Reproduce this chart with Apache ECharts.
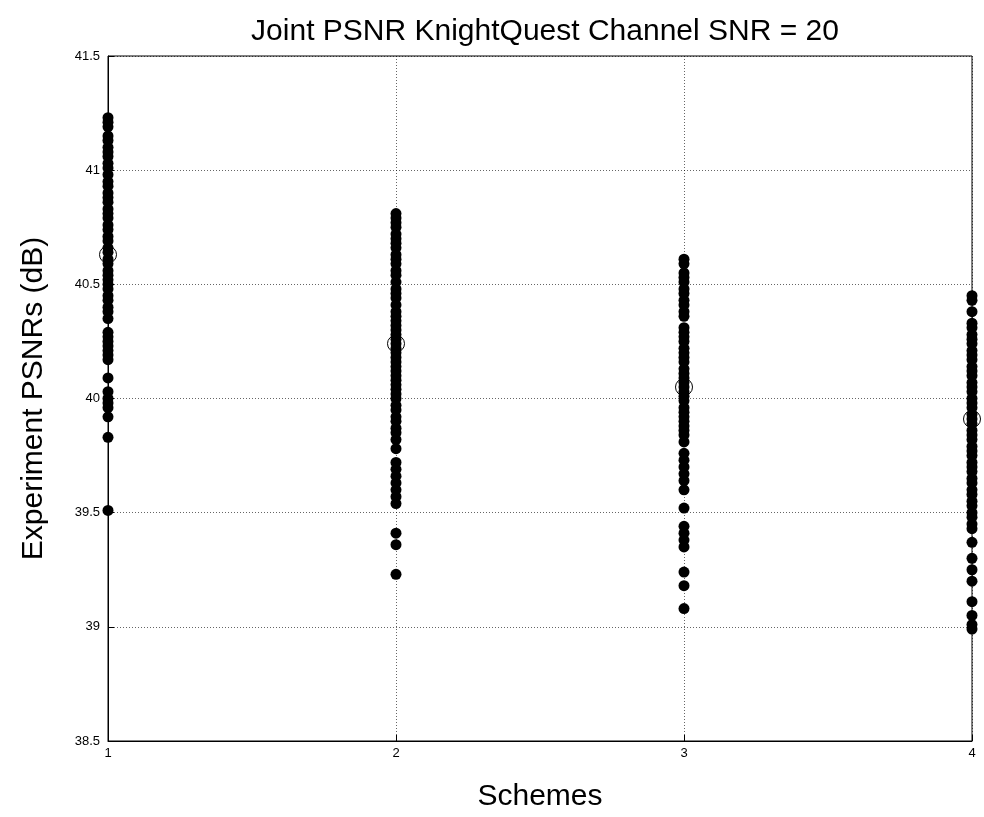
<!DOCTYPE html>
<html>
<head>
<meta charset="utf-8">
<script src="https://cdn.jsdelivr.net/npm/echarts@6/dist/echarts.min.js"></script>
<style>
  html, body { margin: 0; padding: 0; background: #fff; }
  #chart { width: 984px; height: 817px; }
</style>
</head>
<body>
<div id="chart"></div>
<script>
// PSNR samples, one list per scheme
const scheme1 = [41.23, 41.21, 41.19, 41.15, 41.13, 41.10, 41.08, 41.06, 41.03, 41.01, 40.98, 40.95, 40.93,
  40.90, 40.88, 40.86, 40.83, 40.81, 40.79, 40.76, 40.74, 40.71, 40.69, 40.66, 40.64, 40.61, 40.59, 40.56,
  40.54, 40.52, 40.50, 40.48, 40.45, 40.43, 40.40, 40.38, 40.35, 40.29, 40.27, 40.25, 40.23, 40.21, 40.19,
  40.17, 40.09, 40.03, 40.00, 39.98, 39.96, 39.92, 39.83, 39.51];
const scheme2 = [40.81, 40.79, 40.77, 40.75, 40.72, 40.70, 40.68, 40.66, 40.63, 40.61, 40.59, 40.56, 40.54,
  40.51, 40.48, 40.46, 40.44, 40.41, 40.38, 40.36, 40.34, 40.32, 40.30, 40.28, 40.26, 40.24, 40.22, 40.20,
  40.18, 40.16, 40.14, 40.12, 40.10, 40.08, 40.06, 40.04, 40.02, 40.00, 39.97, 39.95, 39.92, 39.90, 39.87,
  39.85, 39.82, 39.78, 39.72, 39.69, 39.66, 39.63, 39.60, 39.57, 39.54, 39.41, 39.36, 39.23];
const scheme3 = [40.61, 40.59, 40.55, 40.53, 40.51, 40.48, 40.46, 40.43, 40.41, 40.38, 40.36, 40.31, 40.29,
  40.27, 40.25, 40.22, 40.20, 40.18, 40.16, 40.13, 40.11, 40.09, 40.07, 40.05, 40.03, 40.01, 39.99, 39.96,
  39.94, 39.92, 39.90, 39.88, 39.86, 39.84, 39.81, 39.76, 39.73, 39.70, 39.67, 39.64, 39.60, 39.52, 39.44,
  39.41, 39.38, 39.35, 39.24, 39.18, 39.08];
const scheme4 = [40.45, 40.43, 40.38, 40.33, 40.31, 40.28, 40.26, 40.24, 40.21, 40.19, 40.17, 40.14, 40.12,
  40.10, 40.07, 40.05, 40.03, 40.00, 39.98, 39.96, 39.93, 39.91, 39.89, 39.86, 39.84, 39.82, 39.79, 39.77,
  39.75, 39.72, 39.70, 39.68, 39.65, 39.63, 39.60, 39.58, 39.55, 39.53, 39.50, 39.48, 39.45, 39.43, 39.37,
  39.30, 39.25, 39.20, 39.11, 39.05, 39.01, 38.99];
const meanPsnr = [40.63, 40.24, 40.05, 39.91];
const schemeIds = [1, 2, 3, 4];

const samples = [scheme1, scheme2, scheme3, scheme4];
const points = [];
samples.forEach((vals, i) => vals.forEach(v => points.push([schemeIds[i], v])));
const means = meanPsnr.map((v, i) => [schemeIds[i], v]);

const chart = echarts.init(document.getElementById('chart'));
const font = 'Liberation Sans, Arial, sans-serif';
const dotted = { show: true, lineStyle: { color: '#000', type: [1, 2], width: 1, opacity: 0.6 } };

chart.setOption({
  animation: false,
  backgroundColor: '#fff',
  title: {
    text: 'Joint PSNR KnightQuest Channel SNR = 20',
    left: 540, top: 12, textAlign: 'center',
    textStyle: { fontFamily: font, fontSize: 30, fontWeight: 'normal', color: '#000' }
  },
  grid: { left: 108, right: 12, top: 56, bottom: 75, show: true, borderColor: '#000', borderWidth: 1 },
  xAxis: {
    type: 'value', min: 1, max: 4, interval: 1,
    name: 'Schemes', nameLocation: 'middle', nameGap: 41,
    nameTextStyle: { fontFamily: font, fontSize: 30, color: '#000' },
    axisLine: { lineStyle: { color: '#000' } },
    axisTick: { inside: true, length: 6, lineStyle: { color: '#000' } },
    axisLabel: { fontFamily: font, fontSize: 13, color: '#000', margin: 6 },
    splitLine: dotted
  },
  yAxis: {
    type: 'value', min: 38.5, max: 41.5, interval: 0.5,
    name: 'Experiment PSNRs (dB)', nameLocation: 'middle', nameGap: 59,
    nameTextStyle: { fontFamily: font, fontSize: 30, color: '#000' },
    axisLine: { show: true, lineStyle: { color: '#000' } },
    axisTick: { show: true, inside: true, length: 6, lineStyle: { color: '#000' } },
    axisLabel: { fontFamily: font, fontSize: 13, color: '#000', margin: 8 },
    splitLine: dotted
  },
  series: [
    {
      type: 'scatter', data: points, symbol: 'circle', symbolSize: 11,
      itemStyle: { color: '#000', opacity: 1 }
    },
    {
      type: 'scatter', data: means, symbol: 'circle', symbolSize: 17, z: 3,
      itemStyle: { color: 'rgba(0,0,0,0)', borderColor: '#000', borderWidth: 1, opacity: 1 }
    }
  ]
});
</script>
</body>
</html>
